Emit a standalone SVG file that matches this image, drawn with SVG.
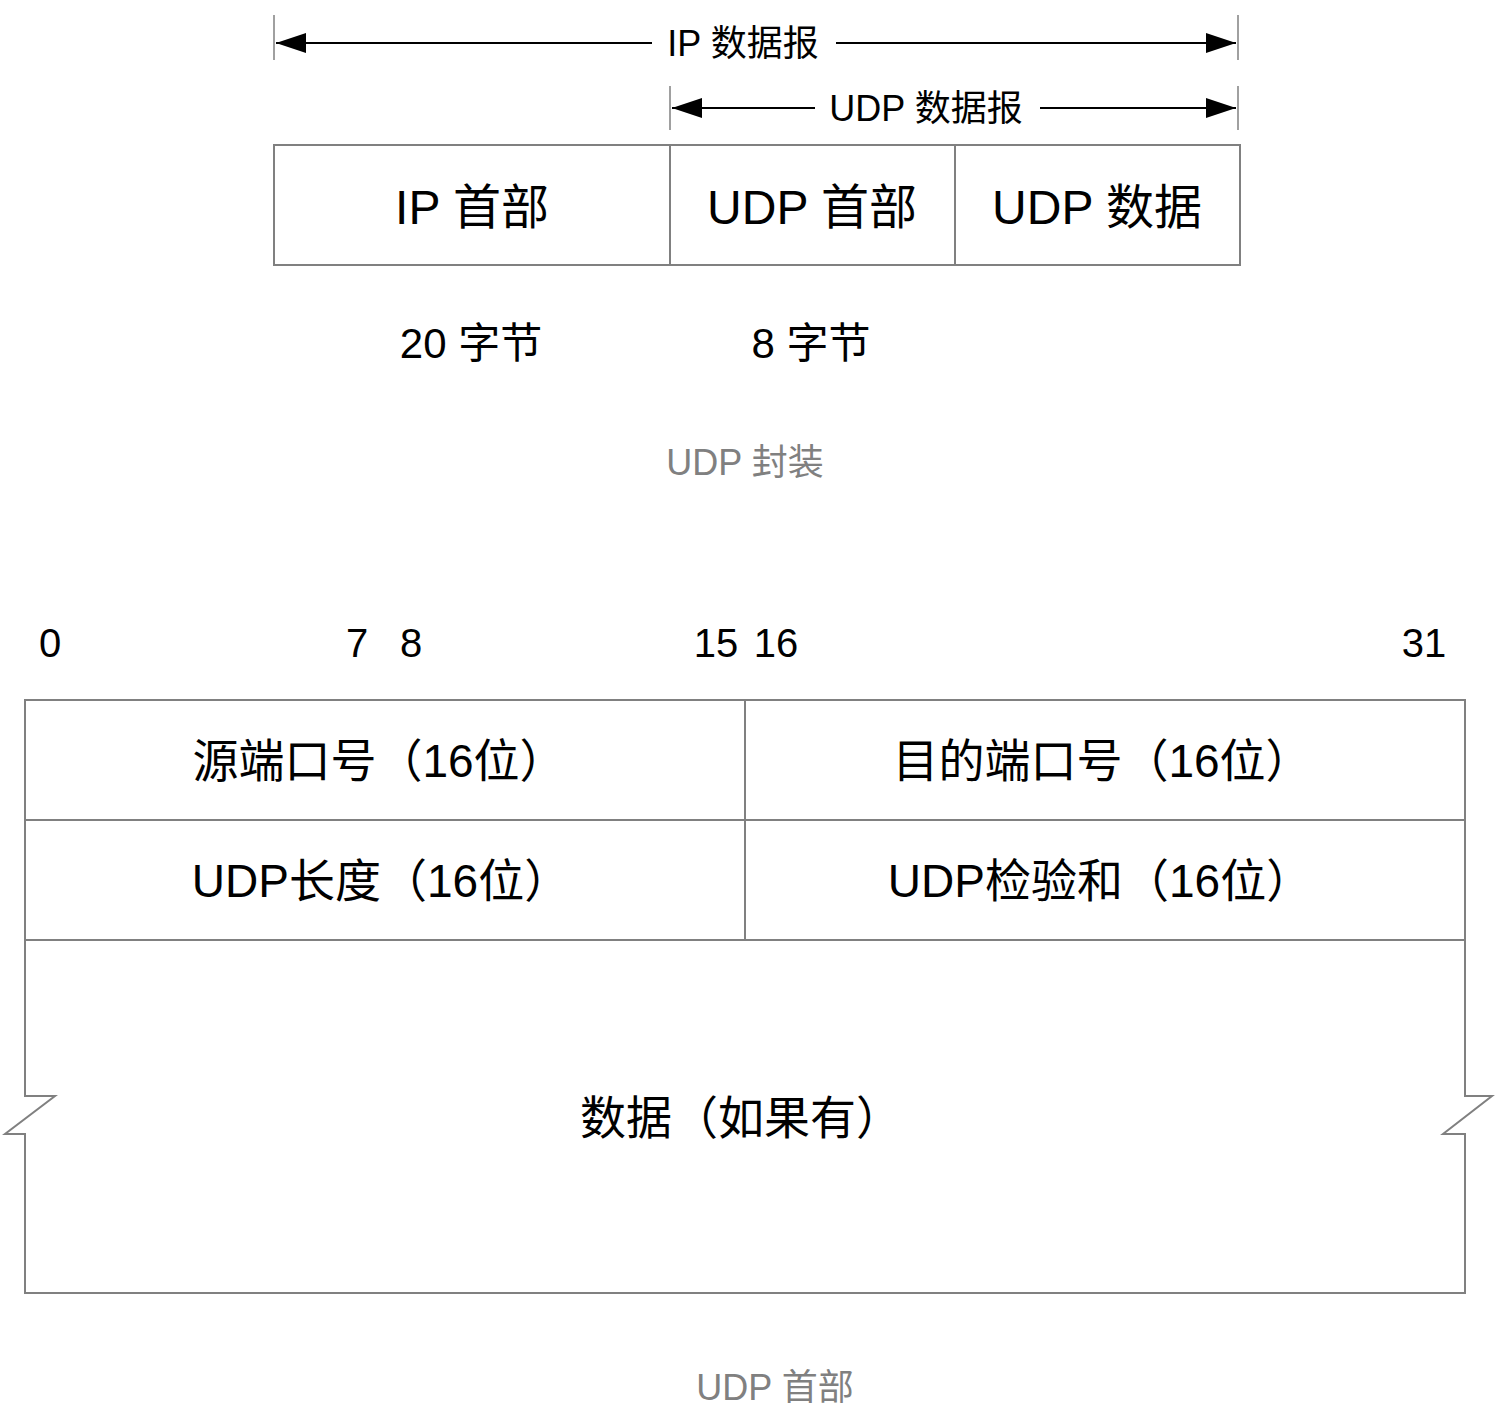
<svg xmlns="http://www.w3.org/2000/svg" width="1497" height="1428" viewBox="0 0 1497 1428">
<style>
text{font-family:"Liberation Sans","Noto Sans CJK SC",sans-serif;fill:#000;text-anchor:middle}
.box{fill:#fff;stroke:#808080;stroke-width:2}
.tick{stroke:#808080;stroke-width:1.5}
.arr{stroke:#000;stroke-width:2;fill:none}
.cap{fill:#808080;font-size:36px}
.t48{font-size:48px}.t46{font-size:46px}.t42{font-size:42px}.t40{font-size:40px}.t36{font-size:36px}
</style>
<defs>
<marker id="ah" viewBox="0 0 30 20" refX="30" refY="10" markerWidth="30" markerHeight="20" markerUnits="userSpaceOnUse" orient="auto">
<path d="M0,0 L30,10 L0,20 Z" fill="#000"/>
</marker>
</defs>
<rect width="1497" height="1428" fill="#fff"/>
<g id="connectors">
<line class="tick" x1="274" y1="15" x2="274" y2="60"/>
<line class="tick" x1="1238" y1="15" x2="1238" y2="60"/>
<line class="tick" x1="670" y1="86" x2="670" y2="130"/>
<line class="tick" x1="1238" y1="86" x2="1238" y2="130"/>
<line class="arr" x1="652" y1="43" x2="276" y2="43" marker-end="url(#ah)"/>
<line class="arr" x1="836" y1="43" x2="1236" y2="43" marker-end="url(#ah)"/>
<line class="arr" x1="815" y1="108" x2="672" y2="108" marker-end="url(#ah)"/>
<line class="arr" x1="1040" y1="108" x2="1236" y2="108" marker-end="url(#ah)"/>
</g>
<g id="label-ip-datagram"><text class="t36" x="743" y="56">IP 数据报</text></g>
<g id="label-udp-datagram"><text class="t36" x="926" y="121">UDP 数据报</text></g>
<g id="ip-header"><rect class="box" x="274" y="145" width="396" height="120"/><text class="t48" x="472" y="224">IP 首部</text></g>
<g id="udp-header"><rect class="box" x="670" y="145" width="285" height="120"/><text class="t48" x="812" y="224">UDP 首部</text></g>
<g id="udp-data"><rect class="box" x="955" y="145" width="285" height="120"/><text class="t48" x="1097" y="224">UDP 数据</text></g>
<g id="size-ip"><text class="t42" x="471" y="358">20 字节</text></g>
<g id="size-udp"><text class="t42" x="811" y="358">8 字节</text></g>
<g id="caption-1"><text class="cap" x="745" y="475">UDP 封装</text></g>
<g id="bit-labels">
<text class="t40" x="50" y="657">0</text>
<text class="t40" x="357" y="657">7</text>
<text class="t40" x="411" y="657">8</text>
<text class="t40" x="716" y="657">15</text>
<text class="t40" x="776" y="657">16</text>
<text class="t40" x="1424" y="657">31</text>
</g>
<g id="src-port"><rect class="box" x="25" y="700" width="720" height="120"/><text class="t46" x="379" y="777">源端口号（16位）</text></g>
<g id="dst-port"><rect class="box" x="745" y="700" width="720" height="120"/><text class="t46" x="1102" y="777">目的端口号（16位）</text></g>
<g id="udp-length"><rect class="box" x="25" y="820" width="720" height="120"/><text class="t46" x="381" y="897">UDP长度（16位）</text></g>
<g id="udp-checksum"><rect class="box" x="745" y="820" width="720" height="120"/><text class="t46" x="1100" y="897">UDP检验和（16位）</text></g>
<g id="data">
<path class="box" d="M25,940 H1465 V1096 H1492 L1443,1134 H1465 V1293 H25 V1134 H5 L55,1096 H25 Z"/>
<text class="t46" x="741" y="1134">数据（如果有）</text>
</g>
<g id="caption-2"><text class="cap" x="775" y="1400">UDP 首部</text></g>
</svg>
